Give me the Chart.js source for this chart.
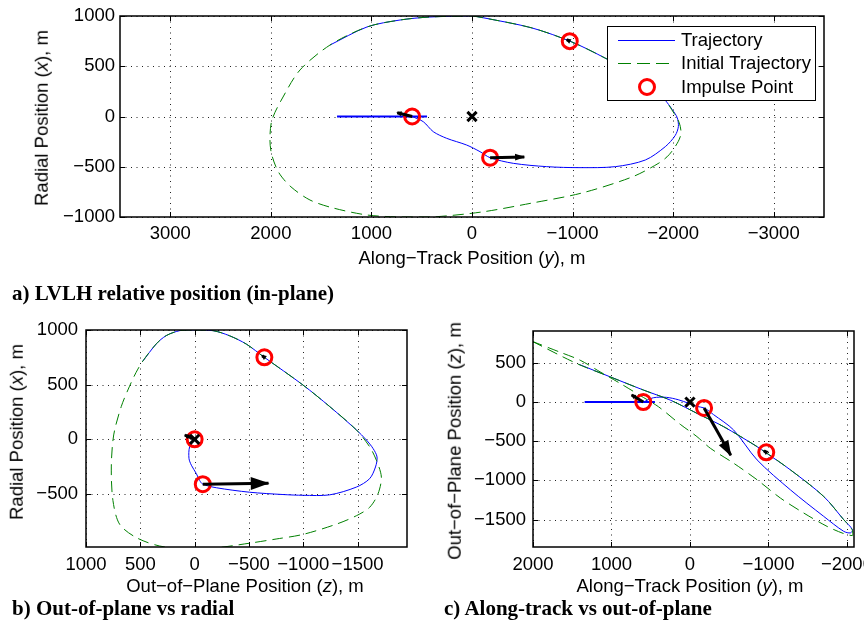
<!DOCTYPE html>
<html>
<head>
<meta charset="utf-8">
<title>Relative trajectory views</title>
<script src="https://cdn.jsdelivr.net/npm/chart.js@4.4.1/dist/chart.umd.min.js"></script>
<style>
  body { margin: 0; width: 864px; height: 627px; position: relative; overflow: hidden; background: #fff;
         font-family: "Liberation Sans", Arial, Helvetica, sans-serif; color: #000; }
  canvas { position: absolute; }
  .axis-title { position: absolute; font-size: 18.5px; line-height: 1; white-space: nowrap; transform: translate(-50%, -50%); }
  .axis-title.vert { transform: translate(-50%, -50%) rotate(-90deg); }
  .caption { position: absolute; font-family: "Liberation Serif", "Times New Roman", serif; font-weight: bold;
             font-size: 21px; line-height: 1; white-space: nowrap; transform: translateY(-50%); }
</style>
</head>
<body>
<canvas id="inPlane" width="864" height="272" style="left:0;top:0"></canvas>
<canvas id="outRadial" width="432" height="300" style="left:0;top:300px"></canvas>
<canvas id="alongOut" width="480" height="300" style="left:432px;top:300px"></canvas>

<div class="axis-title" style="left:472px;top:258px">Along−Track Position (<i>y</i>), m</div>
<div class="axis-title vert" style="left:42px;top:118px">Radial Position (<i>x</i>), m</div>
<div class="caption" style="left:12px;top:293px">a) LVLH relative position (in-plane)</div>

<div class="axis-title" style="left:245px;top:586px">Out−of−Plane Position (<i>z</i>), m</div>
<div class="axis-title vert" style="left:17px;top:432px">Radial Position (<i>x</i>), m</div>
<div class="caption" style="left:12px;top:608px">b) Out-of-plane vs radial</div>

<div class="axis-title" style="left:690px;top:586px">Along−Track Position (<i>y</i>), m</div>
<div class="axis-title vert" style="left:455px;top:441px">Out−of−Plane Position (<i>z</i>), m</div>
<div class="caption" style="left:444px;top:608px">c) Along-track vs out-of-plane</div>

<script>
// LVLH frame: radial x, along-track y, out-of-plane z (all in m)

// burns: position and delta-v direction (drawn to scale in every view)
const impulseX = [0, -410, 750];
const impulseY = [595, -180, -972];
const impulseZ = [0, -75, -642];
const dvX = [38, 8, 15];
const dvY = [148, -340, 30];
const dvZ = [90, -605, 20];

// straight V-bar hold before the first burn
const approachY = [1342, 447];
const approachX = [0, 0];
const approachZ = [0, 0];

// a) in-plane: along-track (horizontal) vs radial (vertical)
const initAlongA = [0, -99, -597, -994, -1322, -1720, -1919, -2010, -2060, -2078, -2050, -1960, -1859,
  -1591, -1094, -597, -99, 398, 716, 1044, 1382, 1611, 1800, 1920, 1990, 2009, 1989, 1879, 1710, 1412,
  1044, 716, 418, 0];
const initRadialA = [1000, 985, 881, 741, 582, 363, 164, 30, -60, -164, -250, -380, -463,
  -602, -761, -861, -950, -1000, -1000, -980, -910, -831, -700, -560, -385, -234, -35, 194, 463, 711,
  891, 960, 990, 1000];
const trajAlongA = [595, 484, 385, 252, 53, -80, -180, -411, -743, -1074, -1425, -1723, -1922, -2020, -2052,
  -2040, -1990, -1919, -1720, -1322, -994, -597, -99, 0, 418, 716, 1044, 1412];
const trajRadialA = [0, -52, -151, -217, -284, -350, -410, -466, -499, -509, -499, -433, -300, -190, -100,
  -10, 70, 164, 363, 582, 741, 881, 985, 1000, 990, 960, 891, 711];

// b) out-of-plane (horizontal) vs radial (vertical)
const initOutB = [30, 138, 261, 353, 476, 540, 599, 675, 745, 767, 752, 691, 537, 322, 76, -200, -506, -750,
  -997, -1305, -1489, -1611, -1688, -1719, -1673, -1611, -1489, -1243, -997, -642, -476, -322, -169, 30];
const initRadialB = [1000, 994, 949, 873, 717, 610, 486, 301, 40, -253, -560, -776, -899, -976, -1001, -992, -950, -912,
  -870, -776, -699, -622, -499, -345, -191, -68, 86, 300, 497, 750, 871, 947, 994, 1000];
const trajOutB = [0, 46, 52, 30, -16, -46, -75, -200, -506, -813, -1000, -1243, -1489, -1611, -1665,
  -1679, -1642, -1581, -1489, -1243, -997, -642, -476, -322, -169, 30, 138, 261, 353, 480];
const trajRadialB = [0, -68, -175, -237, -314, -376, -410, -443, -484, -505, -512, -508, -437, -360, -253,
  -161, -83, -6, 86, 300, 497, 750, 871, 947, 994, 1000, 994, 949, 873, 711];

// c) along-track (horizontal) vs out-of-plane (vertical)
const initAlongC = [2010, 1441, 1017, 592, 251, -131, -429, -855, -1279, -1704, -1959, -2066, -2074, -2070, -1959,
  -1747, -1449, -1152, -855, -556, -259, -89, 124, 401, 634, 889, 1144, 1399, 1654, 2010];
const initOutC = [775, 491, 322, 153, 25, -165, -314, -569, -865, -1205, -1501, -1628, -1692, -1705, -1679,
  -1587, -1416, -1225, -992, -780, -589, -441, -284, -60, 83, 238, 385, 534, 636, 775];
const trajAlongC = [595, 467, 300, 150, 20, -80, -180, -300, -556, -855, -1279, -1704, -1959, -2045, -2070,
  -1959, -1704, -1279, -972, -855, -429, -131, 251, 592, 1017, 1412];
const trajOutC = [0, 55, 60, 30, -15, -55, -75, -160, -356, -738, -1120, -1459, -1650, -1670, -1628,
  -1501, -1205, -865, -650, -569, -314, -165, 25, 153, 322, 480];

// tick values
const alongTicksA = [-3000, -2000, -1000, 0, 1000, 2000, 3000];
const radialTicksA = [-1000, -500, 0, 500, 1000];
const outTicksB = [-1500, -1000, -500, 0, 500, 1000];
const radialTicksB = [-500, 0, 500, 1000];
const alongTicksC = [-2000, -1000, 0, 1000, 2000];
const outTicksC = [-1500, -1000, -500, 0, 500];

const legendLabels = ['Trajectory', 'Initial Trajectory', 'Impulse Point'];

const FONT = '"Liberation Sans", Arial, Helvetica, sans-serif';
const BLUE = '#0000ff';
const GREEN = '#008000';
const RED = '#ff0000';
const DASH = [11, 6];

const minus = v => (v < 0 ? '\u2212' + Math.abs(v) : String(v));
const pts = (xs, ys) => xs.map((v, i) => ({ x: v, y: ys[i] }));

// dotted grid under the curves
const axesGrid = {
  id: 'axesGrid',
  beforeDatasetsDraw(chart) {
    const { ctx, chartArea: a, scales: { x, y } } = chart;
    ctx.save();
    ctx.strokeStyle = '#222';
    ctx.lineWidth = 1;
    ctx.setLineDash([1, 4.5]);
    ctx.beginPath();
    x.ticks.forEach(t => {
      const px = Math.round(x.getPixelForValue(t.value)) + 0.5;
      ctx.moveTo(px, a.top); ctx.lineTo(px, a.bottom);
    });
    y.ticks.forEach(t => {
      const py = Math.round(y.getPixelForValue(t.value)) + 0.5;
      ctx.moveTo(a.left, py); ctx.lineTo(a.right, py);
    });
    ctx.stroke();
    ctx.restore();
  }
};

// box with inward tick marks on all four sides
const axesBox = {
  id: 'axesBox',
  afterDatasetsDraw(chart) {
    const { ctx, chartArea: a, scales: { x, y } } = chart;
    const t = 5;
    ctx.save();
    ctx.strokeStyle = '#000';
    ctx.lineWidth = 1;
    ctx.beginPath();
    x.ticks.forEach(tk => {
      const px = Math.round(x.getPixelForValue(tk.value)) + 0.5;
      ctx.moveTo(px, a.bottom); ctx.lineTo(px, a.bottom - t);
      ctx.moveTo(px, a.top); ctx.lineTo(px, a.top + t);
    });
    y.ticks.forEach(tk => {
      const py = Math.round(y.getPixelForValue(tk.value)) + 0.5;
      ctx.moveTo(a.left, py); ctx.lineTo(a.left + t, py);
      ctx.moveTo(a.right, py); ctx.lineTo(a.right - t, py);
    });
    ctx.stroke();
    ctx.lineWidth = 1.5;
    ctx.strokeRect(a.left, a.top, a.right - a.left, a.bottom - a.top);
    ctx.restore();
  }
};

// filled heads on the delta-v shafts
const arrowHeads = {
  id: 'arrowHeads',
  afterDatasetsDraw(chart) {
    const ctx = chart.ctx;
    chart.data.datasets.forEach((ds, i) => {
      if (ds.label !== 'dv') return;
      const [p0, p1] = chart.getDatasetMeta(i).data;
      const dx = p1.x - p0.x, dy = p1.y - p0.y;
      const len = Math.hypot(dx, dy);
      if (!len) return;
      const ux = dx / len, uy = dy / len;
      const hl = Math.max(4, 0.27 * len), hw = Math.max(2.5, 0.1 * len);
      const bx = p1.x - ux * hl, by = p1.y - uy * hl;
      ctx.save();
      ctx.fillStyle = '#000';
      ctx.beginPath();
      ctx.moveTo(p1.x + ux, p1.y + uy);
      ctx.lineTo(bx - uy * hw, by + ux * hw);
      ctx.lineTo(bx + uy * hw, by - ux * hw);
      ctx.closePath();
      ctx.fill();
      ctx.restore();
    });
  }
};

// legend box in the upper right of the in-plane view
const lineLegend = {
  id: 'lineLegend',
  afterDraw(chart) {
    const { ctx, chartArea: a } = chart;
    const w = 208, h = 74;
    const left = Math.round(a.right - 9 - w), top = Math.round(a.top + 10);
    const rows = [top + 14, top + 37, top + 61];
    ctx.save();
    ctx.fillStyle = '#fff';
    ctx.fillRect(left, top, w, h);
    ctx.strokeStyle = '#000';
    ctx.lineWidth = 1;
    ctx.strokeRect(left + 0.5, top + 0.5, w, h);

    ctx.strokeStyle = BLUE;
    ctx.beginPath(); ctx.moveTo(left + 11, rows[0] + 0.5); ctx.lineTo(left + 68, rows[0] + 0.5); ctx.stroke();
    ctx.strokeStyle = GREEN;
    ctx.setLineDash([13, 6]);
    ctx.beginPath(); ctx.moveTo(left + 11, rows[1] + 0.5); ctx.lineTo(left + 68, rows[1] + 0.5); ctx.stroke();
    ctx.setLineDash([]);
    ctx.strokeStyle = RED;
    ctx.lineWidth = 3;
    ctx.beginPath(); ctx.arc(left + 40, rows[2], 7.5, 0, Math.PI * 2); ctx.stroke();

    ctx.fillStyle = '#000';
    ctx.font = `18.5px ${FONT}`;
    ctx.textBaseline = 'middle';
    legendLabels.forEach((txt, i) => ctx.fillText(txt, left + 74, rows[i] + 1));
    ctx.restore();
  }
};

function axis(ticks, min, max, reverse, size, horizontal, pad) {
  return {
    type: 'linear', min, max, reverse,
    grid: { display: false, drawTicks: false },
    border: { display: false },
    ticks: {
      color: '#000', font: { family: FONT, size: 18.5 }, padding: pad,
      autoSkip: false, maxRotation: 0, minRotation: 0, callback: minus
    },
    afterBuildTicks: s => { s.ticks = ticks.map(v => ({ value: v })); },
    afterFit: s => {
      if (horizontal) s.height = size; else s.width = size;
      s.paddingLeft = s.paddingRight = s.paddingTop = s.paddingBottom = 0;
    }
  };
}

function panel(id, o) {
  const arrows = o.impH.map((h, i) => ({
    label: 'dv',
    data: [{ x: h, y: o.impV[i] }, { x: h + o.dvH[i], y: o.impV[i] + o.dvV[i] }],
    showLine: true, borderColor: '#000', borderWidth: 3, pointRadius: 0
  }));
  const datasets = [
    { label: 'target', data: [{ x: 0, y: 0 }], pointStyle: 'crossRot', pointRadius: 6.5,
      pointBorderWidth: 3, pointBorderColor: '#000', pointBackgroundColor: '#000' },
    ...arrows,
    { label: 'Impulse Point', data: pts(o.impH, o.impV), pointStyle: 'circle', pointRadius: 7.5,
      pointBorderWidth: 3, pointBorderColor: RED, pointBackgroundColor: 'rgba(0,0,0,0)' },
    { label: 'Initial Trajectory', data: pts(o.initH, o.initV), showLine: true, borderColor: GREEN,
      borderWidth: 1, borderDash: DASH, pointRadius: 0, tension: 0.3 },
    { label: 'Trajectory', data: pts(o.trajH, o.trajV), showLine: true, borderColor: BLUE,
      borderWidth: 1, pointRadius: 0, tension: 0.3 },
    { label: 'approach', data: pts(o.apprH, o.apprV), showLine: true, borderColor: BLUE,
      borderWidth: 2, pointRadius: 0 }
  ];
  return new Chart(document.getElementById(id), {
    type: 'scatter',
    data: { datasets },
    options: {
      responsive: false,
      animation: false,
      events: [],
      layout: { padding: o.pad },
      plugins: { legend: { display: false }, tooltip: { enabled: false } },
      scales: { x: o.x, y: o.y }
    },
    plugins: [axesGrid, axesBox, arrowHeads, ...(o.extra || [])]
  });
}

panel('inPlane', {
  impH: impulseY, impV: impulseX, dvH: dvY, dvV: dvX,
  initH: initAlongA, initV: initRadialA, trajH: trajAlongA, trajV: trajRadialA,
  apprH: approachY, apprV: approachX,
  pad: { left: 20, top: 16, right: 40, bottom: 15 },
  x: axis(alongTicksA, -3500, 3500, true, 40, true, 6),
  y: axis(radialTicksA, -1000, 1000, false, 100, false, 5),
  extra: [lineLegend]
});

panel('outRadial', {
  impH: impulseZ, impV: impulseX, dvH: dvZ, dvV: dvX,
  initH: initOutB, initV: initRadialB, trajH: trajOutB, trajV: trajRadialB,
  apprH: approachZ, apprV: approachX,
  pad: { left: 6, top: 30, right: 25, bottom: 13 },
  x: axis(outTicksB, -1955, 1000, true, 40, true, 7),
  y: axis(radialTicksB, -985, 1000, false, 80, false, 8)
});

panel('alongOut', {
  impH: impulseY, impV: impulseZ, dvH: dvY, dvV: dvZ,
  initH: initAlongC, initV: initOutC, trajH: trajAlongC, trajV: trajOutC,
  apprH: approachY, apprV: approachZ,
  pad: { left: 21, top: 31, right: 58, bottom: 13 },
  x: axis(alongTicksC, -2090, 2000, true, 40, true, 7),
  y: axis(outTicksC, -1850, 907, false, 80, false, 7)
});
</script>
</body>
</html>
